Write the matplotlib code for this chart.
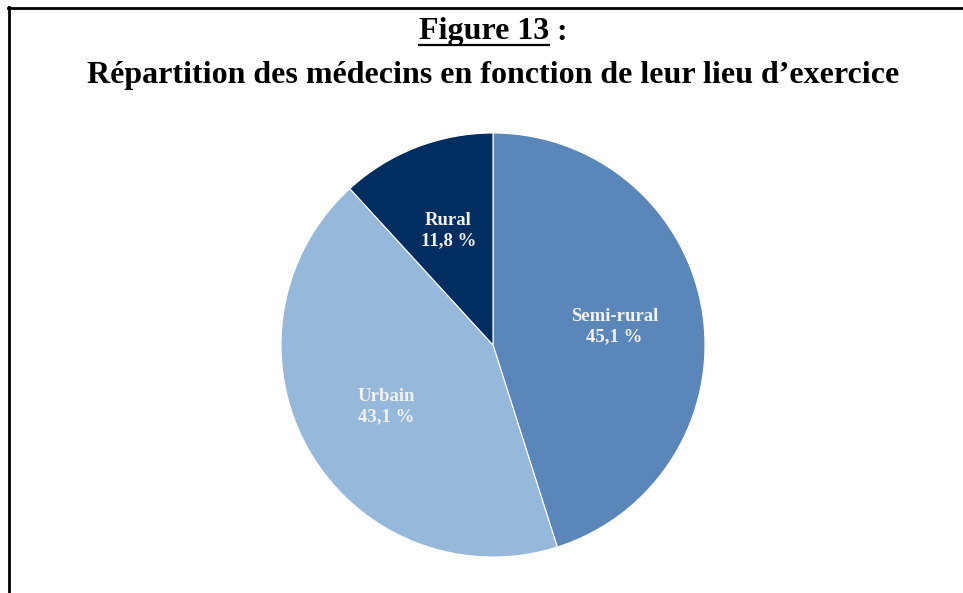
import matplotlib
matplotlib.use("Agg")
import matplotlib.pyplot as plt
from matplotlib.lines import Line2D

labels = ["Semi-rural", "Urbain", "Rural"]
values = [45.1, 43.1, 11.8]
colors = ["#5B86B9", "#96B8DB", "#022D61"]

title_1 = "Figure 13"
title_2 = "Répartition des médecins en fonction de leur lieu d\u2019exercice"

W, H = 963, 593
fig = plt.figure(figsize=(W / 100, H / 100), dpi=100)
plt.rcParams["font.family"] = ["Liberation Serif", "DejaVu Serif"]


def px(x, y):
    # pixel coords from top-left -> figure fraction
    return x / W, 1 - y / H


# frame (top and left edges only visible)
fig.add_artist(Line2D([8 / W, 1], [1 - 7.5 / H] * 2, color="black", lw=2,
                      transform=fig.transFigure))
fig.add_artist(Line2D([8.5 / W] * 2, [0, 1 - 7 / H], color="black", lw=2,
                      transform=fig.transFigure))

# title
t1 = fig.text(*px(484, 32), title_1, ha="center", va="center",
              fontsize=23, fontweight="bold")
fig.text(*px(556, 32), ":", ha="left", va="center",
         fontsize=23, fontweight="bold")
fig.text(*px(493, 75), title_2, ha="center", va="center",
         fontsize=23, fontweight="bold")

fig.canvas.draw()
bb = t1.get_window_extent()
fig.add_artist(Line2D([bb.x0 / W, bb.x1 / W], [1 - 45 / H] * 2,
                      color="black", lw=1.6, transform=fig.transFigure))

# pie
cx, cy, r = 493, 345, 212
ax = fig.add_axes([(cx - r) / W, (H - cy - r) / H, 2 * r / W, 2 * r / H])
ax.pie(values, colors=colors, startangle=90, counterclock=False,
       radius=1, wedgeprops=dict(edgecolor="white", linewidth=0.8),
       labels=[f"{l}\n{v:.1f} %".replace(".", ",") for l, v in zip(labels, values)],
       labeldistance=0.58,
       textprops=dict(color="#F2F2F2", fontsize=13.5, fontweight="bold",
                      ha="center", va="center", linespacing=1.25))
ax.set_xlim(-1, 1)
ax.set_ylim(-1, 1)
ax.set_aspect("auto")
ax.axis("off")

fig.savefig("out.png", dpi=100)
